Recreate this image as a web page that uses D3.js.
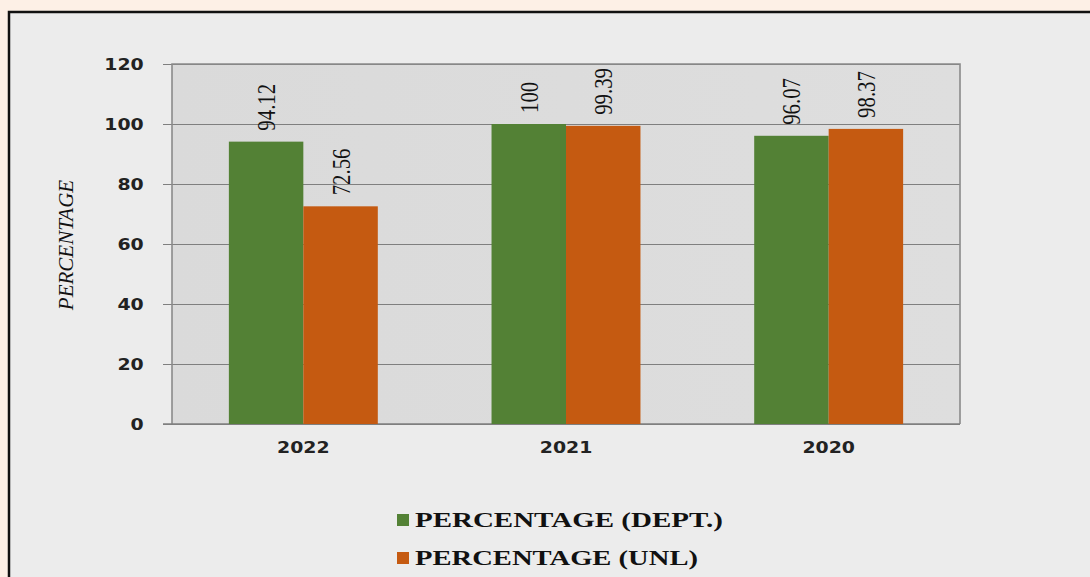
<!DOCTYPE html>
<html>
<head>
<meta charset="utf-8">
<script src="https://cdn.jsdelivr.net/npm/d3@7"></script>
<style>
  body { margin: 0; background: #fdf0e6; }
  svg { display: block; }
  .axis path { display: none; }
  .axis line { stroke: #7f7f7f; }
  .tick text { font-family: "DejaVu Sans", Verdana, sans-serif; font-weight: bold; fill: #222; }
</style>
</head>
<body>
<div id="chart"></div>
<script>
// data
var years = ["2022", "2021", "2020"];
var seriesNames = ["PERCENTAGE (DEPT.)", "PERCENTAGE (UNL)"];
var deptValues = [94.12, 100, 96.07];
var unlValues = [72.56, 99.39, 98.37];
var yTicks = [0, 20, 40, 60, 80, 100, 120];
var colors = ["#538135", "#c55a11"];

var W = 1090, H = 577;
var margin = {top: 64, right: 130, bottom: 153, left: 172};
var width = W - margin.left - margin.right,
    height = H - margin.top - margin.bottom;

var svg = d3.select("#chart").append("svg")
    .attr("width", W)
    .attr("height", H);

// outer framed panel
svg.append("rect")
    .attr("x", 9).attr("y", 12)
    .attr("width", W + 20).attr("height", H + 20)
    .attr("fill", "#ececec")
    .attr("stroke", "#111")
    .attr("stroke-width", 2.5);

var defs = svg.append("defs");
var grad = defs.append("linearGradient").attr("id", "plotbg")
    .attr("x1", 0).attr("y1", 0).attr("x2", 1).attr("y2", 0);
grad.append("stop").attr("offset", "0%").attr("stop-color", "#dadada");
grad.append("stop").attr("offset", "100%").attr("stop-color", "#dedede");

var g = svg.append("g")
    .attr("transform", "translate(" + margin.left + "," + margin.top + ")");

// scales
var x0 = d3.scaleBand()
    .domain(years)
    .range([0, width])
    .paddingInner(0.433)
    .paddingOuter(0.2165);
var x1 = d3.scaleBand()
    .domain(seriesNames)
    .range([0, x0.bandwidth()]);
var y = d3.scaleLinear()
    .domain([0, 120])
    .range([height, 0]);

// plot background
g.append("rect")
    .attr("width", width).attr("height", height)
    .attr("fill", "url(#plotbg)");

// grid + y axis
var yAxis = d3.axisLeft(y).tickValues(yTicks).tickSize(9).tickPadding(20).tickFormat(d3.format("d"));
var yGroup = g.append("g").attr("class", "axis axis--y").call(yAxis);
yGroup.selectAll(".tick text")
    .style("font-size", "16px")
    .attr("transform", "scale(1.18,1)")
    .attr("x", -24);

var yGrid = d3.axisLeft(y).tickValues(yTicks).tickSize(-width).tickFormat("");
g.append("g").attr("class", "axis y-grid").call(yGrid)
  .selectAll("line").attr("stroke", "#808080").attr("stroke-width", 1.2);

// plot border (left, top, right)
g.append("path")
    .attr("d", "M0," + height + "V0H" + width + "V" + height)
    .attr("fill", "none")
    .attr("stroke", "#8a8a8a")
    .attr("stroke-width", 1.6);
g.append("line")
    .attr("x1", -9).attr("x2", width)
    .attr("y1", height).attr("y2", height)
    .attr("stroke", "#7f7f7f").attr("stroke-width", 1.5);

// x axis labels
var xAxis = d3.axisBottom(x0).tickSize(0).tickPadding(18);
var xGroup = g.append("g").attr("class", "axis axis--x")
    .attr("transform", "translate(0," + height + ")")
    .call(xAxis);
xGroup.selectAll(".tick text")
    .style("font-size", "16px")
    .attr("transform", "scale(1.18,1)");

// bars
var rows = years.map(function(yr, i) {
  return {year: yr, values: [
    {name: seriesNames[0], value: deptValues[i], color: colors[0]},
    {name: seriesNames[1], value: unlValues[i], color: colors[1]}
  ]};
});

var groups = g.selectAll(".group")
    .data(rows)
  .enter().append("g")
    .attr("class", "group")
    .attr("transform", function(d) { return "translate(" + x0(d.year) + ",0)"; });

groups.selectAll("rect")
    .data(function(d) { return d.values; })
  .enter().append("rect")
    .attr("x", function(d) { return x1(d.name); })
    .attr("y", function(d) { return y(d.value); })
    .attr("width", x1.bandwidth())
    .attr("height", function(d) { return height - y(d.value); })
    .attr("fill", function(d) { return d.color; });

// value labels, rotated
groups.selectAll(".val")
    .data(function(d) { return d.values; })
  .enter().append("text")
    .attr("class", "val")
    .attr("transform", function(d) {
      return "translate(" + (x1(d.name) + x1.bandwidth() / 2 + 9) + "," + (y(d.value) - 11) + ") rotate(-90) scale(0.8,1)";
    })
    .attr("font-family", "'Liberation Serif', 'Times New Roman', serif")
    .attr("font-size", 26)
    .attr("fill", "#111")
    .text(function(d) { return d.value; });

// y axis title
svg.append("text")
    .attr("transform", "translate(73,245) rotate(-90)")
    .attr("text-anchor", "middle")
    .attr("font-family", "'Liberation Serif', 'Times New Roman', serif")
    .attr("font-style", "italic")
    .attr("font-size", 21)
    .attr("fill", "#111")
    .text("PERCENTAGE");

// legend
var legend = svg.selectAll(".legend")
    .data(seriesNames)
  .enter().append("g")
    .attr("class", "legend")
    .attr("transform", function(d, i) { return "translate(397," + (527 + i * 38) + ")"; });
legend.append("rect")
    .attr("x", 0).attr("y", -13)
    .attr("width", 12).attr("height", 12)
    .attr("fill", function(d, i) { return colors[i]; });
legend.append("text")
    .attr("x", 18)
    .attr("font-family", "'Liberation Serif', 'Times New Roman', serif")
    .attr("font-weight", "bold")
    .attr("font-size", 21)
    .attr("fill", "#111")
    .attr("textLength", function(d, i) { return i === 0 ? 308 : 283; })
    .attr("lengthAdjust", "spacingAndGlyphs")
    .text(function(d) { return d; });
</script>
</body>
</html>
